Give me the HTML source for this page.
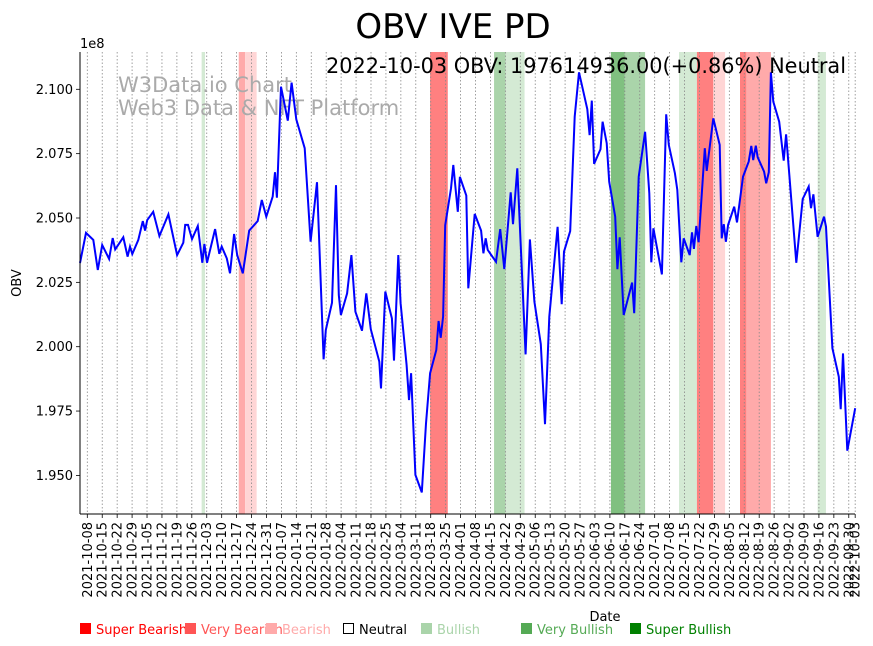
<!DOCTYPE html>
<html><head><meta charset="utf-8"><style>
body{margin:0;background:#fff;width:873px;height:646px;overflow:hidden;font-family:"DejaVu Sans","Liberation Sans",sans-serif}
svg{position:absolute;left:0;top:0}
</style></head><body>
<svg id="chart" width="873" height="646">
<text x="453" y="38" text-anchor="middle" font-size="34" fill="#000">OBV IVE PD</text>
<g id="bands"></g>
<g id="grid"></g>
<text x="118" y="92" font-size="21" fill="#aaaaaa">W3Data.io Chart</text>
<text x="118" y="115" font-size="21" fill="#aaaaaa">Web3 Data &amp; NFT Platform</text>
<polyline id="line" fill="none" stroke="#0000ff" stroke-width="2"/>
<text x="846" y="73" text-anchor="end" font-size="21" textLength="520" lengthAdjust="spacingAndGlyphs" fill="#000">2022-10-03 OBV: 197614936.00(+0.86%) Neutral</text>
<g id="axes"></g>
<text x="80" y="48" font-size="13">1e8</text>
<text transform="translate(21,283) rotate(-90)" text-anchor="middle" font-size="13">OBV</text>
<text x="605" y="621" text-anchor="middle" font-size="13">Date</text>
<g id="legend" font-size="13">
<rect x="80" y="623" width="11" height="11" fill="#ff0000"/>
<text x="96" y="634" fill="#ff0000">Super Bearish</text>
<rect x="185" y="623" width="11" height="11" fill="#ff5555"/>
<text x="201" y="634" fill="#ff5555">Very Bearish</text>
<rect x="266" y="623" width="11" height="11" fill="#ffaaaa"/>
<text x="282" y="634" fill="#ffaaaa">Bearish</text>
<rect x="343.5" y="623.5" width="10" height="10" fill="none" stroke="#000"/>
<text x="359" y="634" fill="#000">Neutral</text>
<rect x="421" y="623" width="11" height="11" fill="#aad4aa"/>
<text x="437" y="634" fill="#aad4aa">Bullish</text>
<rect x="521" y="623" width="11" height="11" fill="#55aa55"/>
<text x="537" y="634" fill="#55aa55">Very Bullish</text>
<rect x="630" y="623" width="11" height="11" fill="#008000"/>
<text x="646" y="634" fill="#008000">Super Bullish</text>
</g>
</svg>
<script>
// days since 2021-10-08
const days = [-3.4,-0.6,2.8,4.9,7.0,10.2,11.9,13.1,16.9,18.9,20.0,21.1,23.9,26.0,27.1,28.1,30.9,33.8,38.0,42.1,45.0,45.9,47.2,49.1,51.8,53.9,54.9,56.1,59.9,61.9,63.0,65.4,66.9,68.8,70.3,72.9,75.9,79.9,81.8,83.9,86.9,88.0,88.9,90.8,94.0,95.8,98.0,101.9,104.7,107.7,110.8,111.8,114.7,116.6,117.9,118.9,121.8,123.8,125.7,128.8,130.8,132.9,136.9,137.7,139.7,142.8,143.8,145.8,146.9,149.7,150.8,151.8,153.8,156.8,158.8,160.7,163.6,164.7,165.7,166.8,167.8,170.5,171.6,173.7,174.7,177.7,178.6,181.6,184.6,185.7,186.8,187.7,191.6,193.6,195.5,198.5,199.6,201.6,205.5,207.5,209.6,212.6,214.6,216.6,220.5,222.4,223.5,226.4,228.5,230.5,234.4,235.5,236.5,237.6,240.6,241.6,243.5,244.7,247.5,248.5,249.6,251.5,255.4,256.4,258.5,261.5,263.5,264.4,265.4,269.4,271.4,272.6,275.5,276.6,278.5,279.6,282.4,283.5,284.4,285.5,286.6,289.5,290.4,293.5,296.5,297.4,298.4,299.4,300.4,303.3,304.6,307.4,310.1,311.3,312.2,313.4,314.3,317.3,318.3,319.5,320.5,321.6,324.4,326.5,327.6,332.4,335.4,338.2,339.3,340.4,342.4,345.4,346.3,349.3,352.3,353.2,354.3,356.3,360];
// OBV in units of 1e8
const obv = [2.0325,2.0442,2.0415,2.0298,2.0395,2.0341,2.0422,2.0378,2.0425,2.0350,2.0389,2.0360,2.0415,2.0488,2.0451,2.0492,2.0524,2.0430,2.0514,2.0356,2.0404,2.0473,2.0473,2.0418,2.0469,2.0326,2.0399,2.0326,2.0457,2.0361,2.0389,2.0343,2.0285,2.0438,2.0356,2.0285,2.0451,2.0488,2.0570,2.0505,2.0583,2.0678,2.0579,2.1010,2.0878,2.1026,2.0883,2.0771,2.0408,2.0639,1.9951,2.0065,2.0171,2.0628,2.0201,2.0123,2.0207,2.0356,2.0136,2.0062,2.0207,2.0068,1.9942,1.9838,2.0214,2.0110,1.9946,2.0356,2.0169,1.9929,1.9793,1.9897,1.9502,1.9434,1.9702,1.9897,1.9987,2.0100,2.0035,2.0117,2.0472,2.0615,2.0706,2.0524,2.0660,2.0587,2.0227,2.0516,2.0451,2.0363,2.0421,2.0376,2.0330,2.0457,2.0302,2.0600,2.0476,2.0693,1.9970,2.0417,2.0175,2.0010,1.9699,2.0117,2.0466,2.0165,2.0369,2.0449,2.0894,2.1066,2.0923,2.0822,2.0956,2.0710,2.0767,2.0874,2.0791,2.0641,2.0505,2.0301,2.0425,2.0123,2.0249,2.0130,2.0660,2.0835,2.0596,2.0328,2.0460,2.0281,2.0903,2.0784,2.0674,2.0609,2.0328,2.0421,2.0356,2.0444,2.0380,2.0469,2.0406,2.0771,2.0683,2.0887,2.0784,2.0421,2.0476,2.0408,2.0473,2.0544,2.0483,2.0660,2.0719,2.0780,2.0725,2.0781,2.0736,2.0680,2.0635,2.0678,2.1066,2.0952,2.0874,2.0723,2.0825,2.0326,2.0574,2.0622,2.0538,2.0592,2.0427,2.0505,2.0466,1.9994,1.9883,1.9757,1.9974,1.9596,1.9761];
const bandStart = [53.6,71,74,160.7,190.7,196.1,245.5,252,277.4,285.8,293.5,306,309,342.4];
const bandEnd   = [55.2,74,79.4,169,196.1,205,252,261.5,285.8,293.5,299,309,320.5,346.3];
const bandType  = ['bull','vbear','bear','sbear','vbull','bull','sbull','vbull','bull','sbear','bear','sbear','vbear','bull'];
const yTicks = [1.950,1.975,2.000,2.025,2.050,2.075,2.100];

const NS='http://www.w3.org/2000/svg';
const L=80,R=855,T=52,B=514;
const xs=d=>87.3+d*2.133;
const ys=v=>89.3+(2.1-v)*2574;
const colors={sbear:'#ff8080',vbear:'#ffaaaa',bear:'#ffd5d5',bull:'#d4ead4',vbull:'#aad4aa',sbull:'#80c080'};
function mk(tag,attrs,parent){const e=document.createElementNS(NS,tag);for(const k in attrs)e.setAttribute(k,attrs[k]);parent.appendChild(e);return e;}

const bands=document.getElementById('bands');
for(let i=0;i<bandStart.length;i++){
  const r=mk('rect',{x:xs(bandStart[i]),y:T,width:xs(bandEnd[i])-xs(bandStart[i]),height:B-T,fill:colors[bandType[i]]},bands);
  
  
}
const grid=document.getElementById('grid'), axes=document.getElementById('axes');
const start=new Date(Date.UTC(2021,9,8));
const tickDays=[];for(let d=0;d<=357;d+=7)tickDays.push(d);tickDays.push(360);
tickDays.forEach(d=>{
  const x=xs(d);
  const g=mk('line',{x1:x,x2:x,y1:T,y2:B,stroke:'#888','stroke-width':0.8,'stroke-dasharray':'1.5,2'},grid);
  
  
  mk('line',{x1:x,x2:x,y1:B,y2:B+4,stroke:'#000','stroke-width':0.8},axes);
  const dt=new Date(start.getTime()+d*86400000);
  const lab=dt.toISOString().slice(0,10);
  const t=mk('text',{transform:`translate(${x+4.5},${B+8}) rotate(-90)`,'text-anchor':'end','font-size':13},axes);
  t.textContent=lab;
  
  
});
yTicks.forEach(v=>{
  const y=ys(v);
  mk('line',{x1:L-4,x2:L,y1:y,y2:y,stroke:'#000','stroke-width':0.8},axes);
  const t=mk('text',{x:L-7,y:y+4.5,'text-anchor':'end','font-size':13},axes);
  t.textContent=v.toFixed(3);
  
  
});
mk('line',{x1:L,x2:L,y1:T,y2:B,stroke:'#000','stroke-width':1},axes);
mk('line',{x1:L,x2:R,y1:B,y2:B,stroke:'#000','stroke-width':1},axes);
document.getElementById('line').setAttribute('points',days.map((d,i)=>xs(d).toFixed(1)+','+ys(obv[i]).toFixed(1)).join(' '));
</script>
</body></html>
